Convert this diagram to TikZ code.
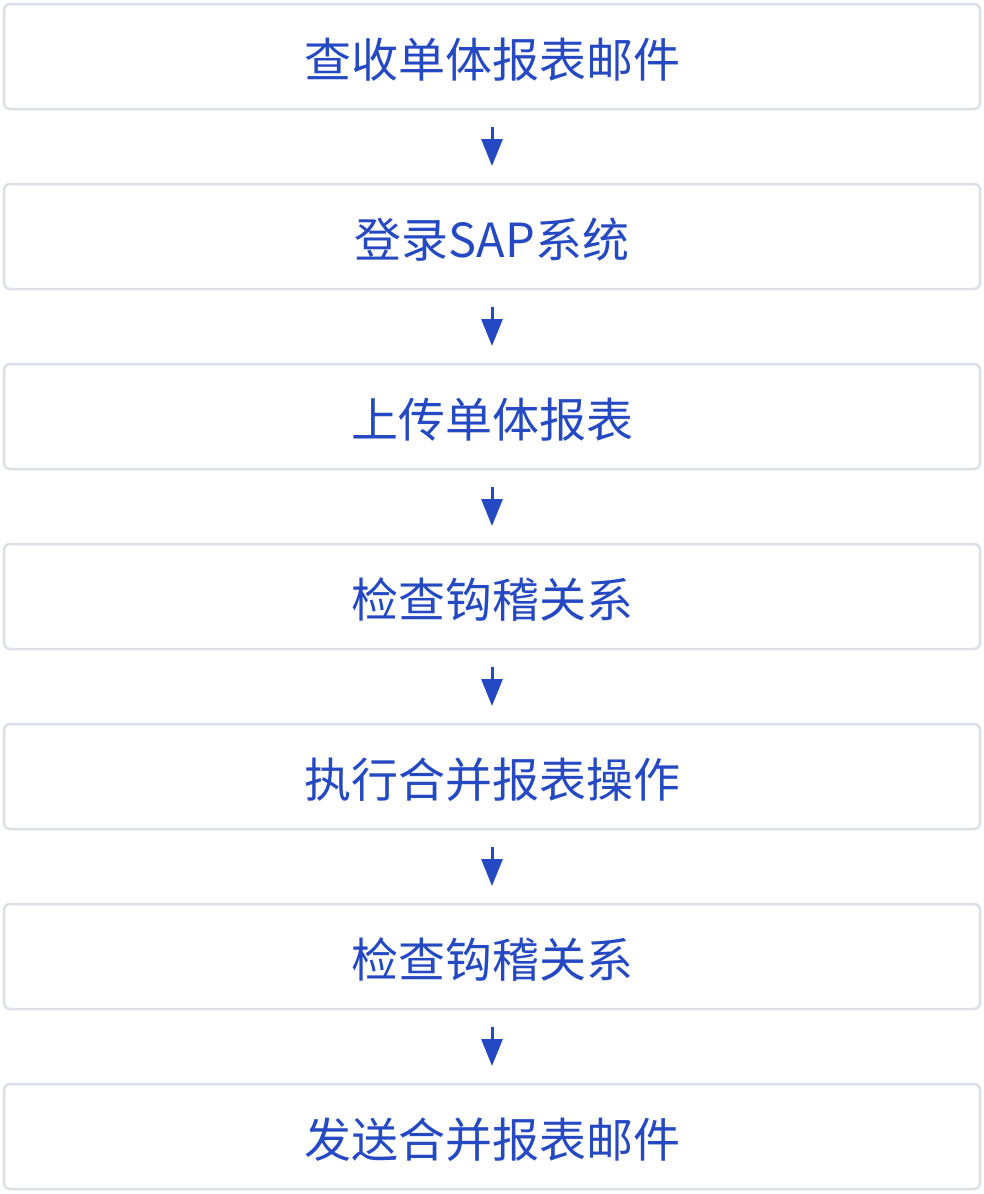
\documentclass[tikz,border=0pt]{standalone}
\usepackage{fontspec}
\newfontfamily\cjk{Noto Sans CJK SC}
\usetikzlibrary{arrows.meta}
\definecolor{bl}{HTML}{2549C3}
\definecolor{bd}{HTML}{DCE1E7}
\begin{document}
\begin{tikzpicture}[x=1pt,y=-1pt,
 stepbox/.style={draw=bd,line width=2.5pt,rounded corners=6pt,minimum width=976pt,minimum height=105pt,inner sep=0pt},
 lbl/.style={text=bl,font=\cjk\fontsize{47}{56}\selectfont,inner sep=0pt},
 arr/.style={draw=bl,line width=3pt,-{Triangle[length=27pt,width=21pt]}}]
\useasboundingbox (0,0) rectangle (984,1194);
\foreach \t [count=\i from 0] in {查收单体报表邮件,登录SAP系统,上传单体报表,检查钩稽关系,执行合并报表操作,检查钩稽关系,发送合并报表邮件}{
 \node[stepbox] (b\i) at (492,{56.5+180*\i}) {};
 \node[lbl] (t\i) at (492,{59.5+180*\i}) {\t};
 \coordinate (s\i) at (492,{127+180*\i});
 \coordinate (e\i) at (492,{166+180*\i});
}
\foreach \i in {0,...,5}{\draw[arr] (s\i) -- (e\i);}
\end{tikzpicture}
\end{document}
